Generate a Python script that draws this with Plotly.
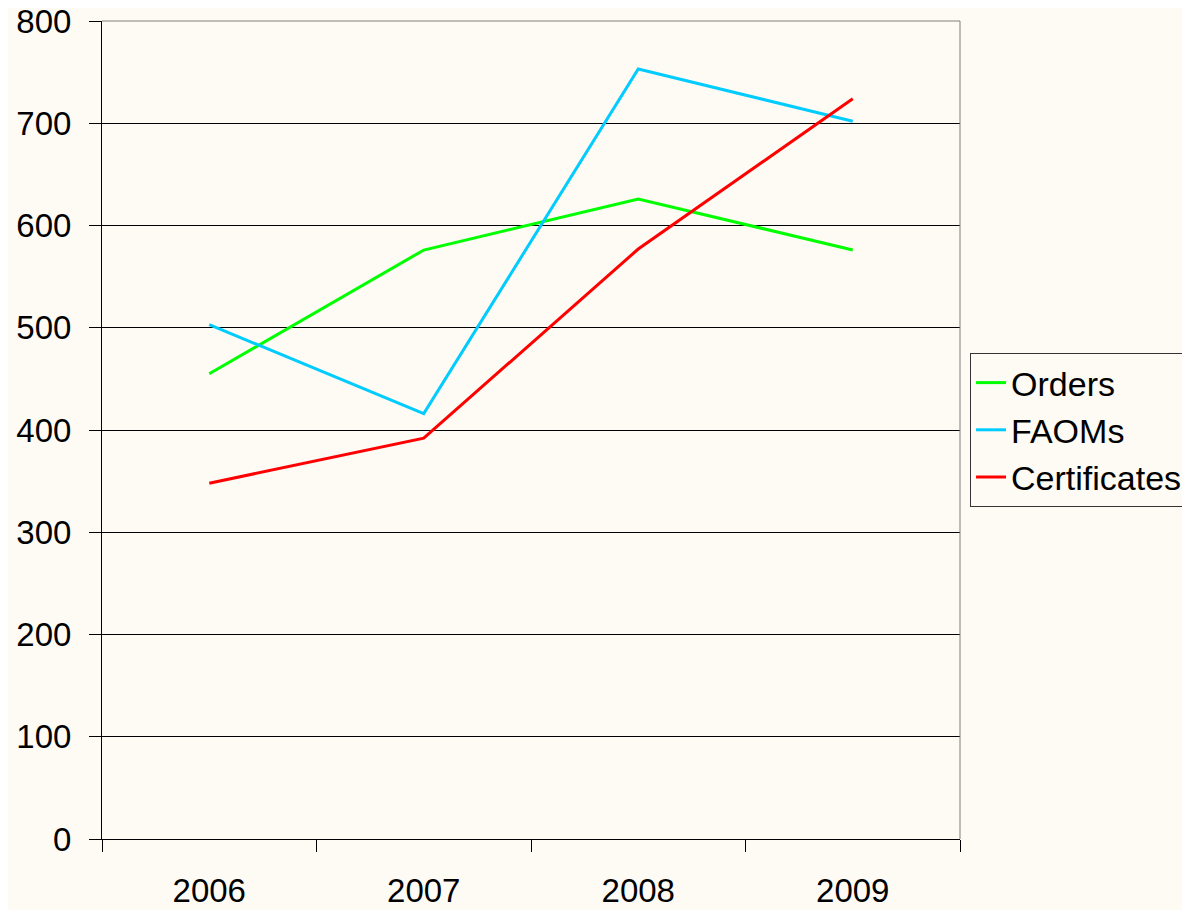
import plotly.graph_objects as go

years = ["2006", "2007", "2008", "2009"]
orders = [455, 576, 626, 576]
faoms = [503, 416, 753, 702]
certificates = [348, 392, 577, 724]

BG = "#FEFAF4"
FONT = "Liberation Sans, Arial, sans-serif"

fig = go.Figure()
fig.add_trace(go.Scatter(x=years, y=orders, mode="lines", name="Orders",
                         line=dict(color="#00FF00", width=3)))
fig.add_trace(go.Scatter(x=years, y=faoms, mode="lines", name="FAOMs",
                         line=dict(color="#00CCFF", width=3)))
fig.add_trace(go.Scatter(x=years, y=certificates, mode="lines", name="Certificates",
                         line=dict(color="#FF0000", width=3)))

# page body has an 8px margin, so the figure is sized/offset to compensate
fig.update_layout(
    width=1182, height=902,
    margin=dict(l=94, r=230, t=13, b=71, autoexpand=False),
    paper_bgcolor=BG, plot_bgcolor=BG,
    font=dict(family=FONT, size=33, color="black"),
    showlegend=True,
    legend=dict(x=1.0117, y=0.5, xanchor="left", yanchor="middle",
                bgcolor=BG, bordercolor="#333333", borderwidth=1,
                font=dict(size=34), itemwidth=30, tracegroupgap=0),
    xaxis=dict(type="category", tickson="boundaries", ticks="outside",
               ticklen=12, tickcolor="black", showline=True, linecolor="black",
               linewidth=1, showgrid=False, range=[-0.5, 3.5], automargin=False,
               ticklabelstandoff=22, ticklabeloverflow="allow",
               tickfont=dict(size=33)),
    yaxis=dict(range=[0, 800], dtick=100, ticks="outside", ticklen=12,
               tickcolor="black", showline=True, linecolor="black", linewidth=1,
               showgrid=True, gridcolor="black", gridwidth=1, zeroline=False,
               automargin=False, ticklabelstandoff=11, ticklabeloverflow="allow",
               tickfont=dict(size=33)),
)
fig.add_shape(type="line", xref="paper", yref="paper", x0=0, x1=1, y0=1, y1=1,
              line=dict(color="#808080", width=1), layer="above")
fig.add_shape(type="line", xref="paper", yref="paper", x0=1, x1=1, y0=0, y1=1,
              line=dict(color="#808080", width=1), layer="above")

fig.write_html("out.html")
